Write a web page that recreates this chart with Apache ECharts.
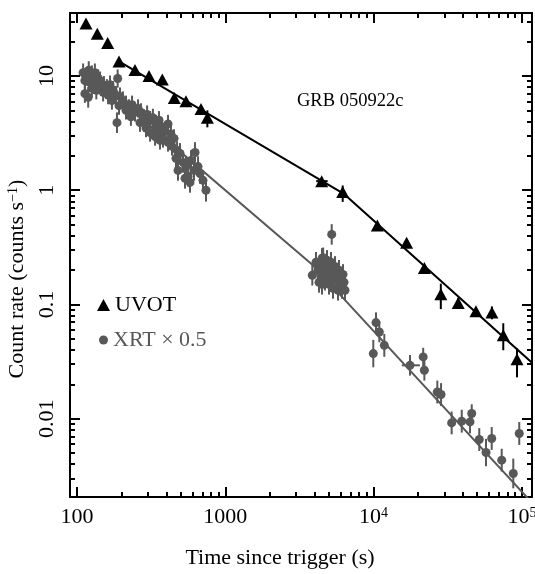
<!DOCTYPE html>
<html>
<head>
<meta charset="utf-8">
<title>GRB 050922c</title>
<script src="https://cdn.jsdelivr.net/npm/echarts@6.0.0/dist/echarts.min.js"></script>
<style>
  html, body { margin: 0; padding: 0; background: #fff; }
  #chart { width: 535px; height: 574px; }
</style>
</head>
<body>
<div id="chart"></div>
<script>
var FONT = '"Liberation Serif", "Times New Roman", serif';
var GREY = '#585858';

// ticks
var xMajor = [100, 1000, 10000, 100000];
var xMajorLabels = ['100', '1000', '10{sup|4}', '10{sup|5}'];
var xMinor = [200, 300, 400, 500, 600, 700, 800, 900,
  2000, 3000, 4000, 5000, 6000, 7000, 8000, 9000,
  20000, 30000, 40000, 50000, 60000, 70000, 80000, 90000];
var yMajor = [0.01, 0.1, 1, 10];
var yMajorLabels = ['0.01', '0.1', '1', '10'];
var yMinor = [0.003, 0.004, 0.005, 0.006, 0.007, 0.008, 0.009,
  0.02, 0.03, 0.04, 0.05, 0.06, 0.07, 0.08, 0.09,
  0.2, 0.3, 0.4, 0.5, 0.6, 0.7, 0.8, 0.9,
  2, 3, 4, 5, 6, 7, 8, 9, 20, 30];

// UVOT
var uvotT = [115, 137, 161, 192, 246, 306, 376, 453, 543, 686, 757,
  4467, 6190, 10600, 16700, 22000, 28400, 37200, 49000, 62800, 74900, 92700];
var uvotRate = [28.8, 23.4, 19.4, 13.4, 11.3, 10.0, 9.3, 6.4, 6.02, 5.13, 4.31,
  1.20, 0.962, 0.492, 0.347, 0.208, 0.1226, 0.1028, 0.0871, 0.0848, 0.0537, 0.0331];
var uvotLo = [null, null, null, null, null, null, null, null, null, null, 3.55,
  null, 0.79, null, null, null, 0.091, 0.092, null, 0.074, 0.0397, 0.023];
var uvotHi = [null, null, null, null, null, null, null, null, null, null, 5.0,
  null, 1.10, null, null, null, 0.152, 0.114, null, 0.096, 0.0684, 0.0413];
var uvotXbarT = [4467];
var uvotXbarRate = [1.20];
var uvotXbarLo = [4100];
var uvotXbarHi = [4900];
var uvotFitT = [192, 6266, 122500];
var uvotFitRate = [13.4, 0.934, 0.0293];

// XRT (x 0.5)
var xrtT = [
  110, 113, 113, 115, 119, 120, 122, 126, 126, 130, 132, 135, 139, 143,
  150, 152, 159, 162, 167, 172, 175, 183, 186, 188, 192, 195, 204, 214,
  214, 224, 231, 235, 246, 258, 266, 270, 283, 292, 297, 311, 311, 325,
  336, 341, 352, 357, 363, 374, 380, 392, 411, 411, 430, 437, 451, 465,
  473, 480, 495, 519, 535, 543, 561, 578, 587, 615, 625, 655, 675, 707, 741,
  3861, 4089, 4218, 4284, 4351, 4419, 4487, 4487, 4558, 4570, 4629, 4702,
  4775, 4850, 4926, 5003, 5082, 5161, 5218, 5242, 5324, 5408, 5492, 5578,
  5666, 5754, 5845, 5936, 6029, 6124, 6220, 6317, 6416,
  9954, 10380, 10930, 11810, 17600, 21600, 22000, 26900, 28500, 33600,
  39300, 44700, 45900, 51600, 57300, 62600, 73100, 87500, 96000];
var xrtRate = [
  10.7, 9.1, 7.0, 9.9, 6.5, 11.2, 8.8, 10.3, 7.8, 8.4, 10.7, 7.5, 9.5, 9.1,
  7.2, 8.3, 7.8, 6.8, 8.4, 6.1, 7.5, 6.8, 3.9, 9.5, 5.5, 6.6, 6.1, 5.6,
  5.0, 5.2, 4.4, 5.6, 4.8, 5.2, 3.9, 4.8, 4.25, 3.5, 4.6, 4.1, 3.2, 4.3,
  2.95, 3.8, 3.2, 4.1, 2.73, 3.6, 2.84, 3.3, 3.8, 2.62, 3.1, 2.42, 2.84, 1.90,
  2.23, 1.49, 2.10, 1.75, 1.27, 1.61, 1.32, 1.17, 1.82, 1.49, 2.14, 1.61, 1.40, 1.22, 1.0,
  0.18, 0.234, 0.199, 0.156, 0.215, 0.176, 0.253, 0.150, 0.191, 0.256, 0.224, 0.163,
  0.207, 0.243, 0.183, 0.150, 0.199, 0.234, 0.41, 0.169, 0.138, 0.191, 0.215, 0.163,
  0.176, 0.133, 0.199, 0.150, 0.169, 0.138, 0.183, 0.156, 0.133,
  0.0371, 0.0693, 0.0573, 0.0438, 0.0293, 0.0347, 0.0265, 0.0171, 0.01625, 0.00917,
  0.0095, 0.00936, 0.0111, 0.00656, 0.00505, 0.0067, 0.00433, 0.00331, 0.00741];
// half-length of the error bar in dex
var xrtErr = [
  0.08, 0.08, 0.08, 0.08, 0.09, 0.08, 0.08, 0.08, 0.08, 0.08, 0.08, 0.08, 0.08, 0.08,
  0.08, 0.08, 0.08, 0.08, 0.08, 0.08, 0.08, 0.08, 0.09, 0.08, 0.08, 0.08, 0.08, 0.08,
  0.08, 0.08, 0.08, 0.08, 0.08, 0.08, 0.08, 0.08, 0.08, 0.08, 0.08, 0.08, 0.08, 0.08,
  0.08, 0.08, 0.08, 0.08, 0.08, 0.08, 0.08, 0.08, 0.08, 0.08, 0.08, 0.08, 0.08, 0.09,
  0.08, 0.09, 0.09, 0.09, 0.09, 0.09, 0.09, 0.09, 0.09, 0.09, 0.09, 0.09, 0.09, 0.09, 0.1,
  0.09, 0.09, 0.09, 0.09, 0.09, 0.09, 0.09, 0.09, 0.09, 0.09, 0.09, 0.09,
  0.09, 0.09, 0.09, 0.09, 0.09, 0.09, 0.09, 0.09, 0.09, 0.09, 0.09, 0.09,
  0.09, 0.09, 0.09, 0.09, 0.09, 0.09, 0.09, 0.09, 0.09,
  0.12, 0.09, 0.09, 0.1, 0.09, 0.08, 0.09, 0.1, 0.1, 0.1,
  0.1, 0.1, 0.08, 0.1, 0.12, 0.1, 0.1, 0.13, 0.1];
var xrtXbarT = [17600, 26900];
var xrtXbarRate = [0.0293, 0.0171];
var xrtXbarLo = [15500, 25100];
var xrtXbarHi = [20500, 29500];
var xrtFitT = [110, 3902, 122500];
var xrtFitRate = [11.6, 0.22, 0.00172];

// [t, rate, lo, hi, tlo, thi]
var uvotBars = uvotT.map(function (t, i) {
  return [t, uvotRate[i], uvotLo[i], uvotHi[i], null, null];
}).concat(uvotXbarT.map(function (t, i) {
  return [t, uvotXbarRate[i], null, null, uvotXbarLo[i], uvotXbarHi[i]];
}));
var xrtBars = xrtT.map(function (t, i) {
  var f = Math.pow(10, xrtErr[i]);
  return [t, xrtRate[i], xrtRate[i] / f, xrtRate[i] * f, null, null];
}).concat(xrtXbarT.map(function (t, i) {
  return [t, xrtXbarRate[i], null, null, xrtXbarLo[i], xrtXbarHi[i]];
}));

function pairs(xs, ys) {
  return xs.map(function (x, i) { return [x, ys[i]]; });
}

function barRenderer(color) {
  return function (params, api) {
    var t = api.value(0), r = api.value(1);
    var lo = api.value(2), hi = api.value(3), tlo = api.value(4), thi = api.value(5);
    var style = { stroke: color, lineWidth: 2 };
    var kids = [];
    if (isFinite(lo) && isFinite(hi) && lo > 0) {
      var a = api.coord([t, lo]), b = api.coord([t, hi]);
      kids.push({ type: 'line', shape: { x1: a[0], y1: a[1], x2: b[0], y2: b[1] }, style: style });
    }
    if (isFinite(tlo) && isFinite(thi) && tlo > 0) {
      var c = api.coord([tlo, r]), d = api.coord([thi, r]);
      kids.push({ type: 'line', shape: { x1: c[0], y1: c[1], x2: d[0], y2: d[1] }, style: style });
    }
    return { type: 'group', children: kids };
  };
}

function labelFor(list, labels) {
  return function (v) {
    for (var i = 0; i < list.length; i++) {
      if (Math.abs(Math.log10(v) - Math.log10(list[i])) < 1e-6) return labels[i];
    }
    return '';
  };
}

var X_MIN = 89.7, X_MAX = 117000;
var Y_MIN = 0.00206, Y_MAX = 35.6;
var supStyle = { fontFamily: FONT, fontSize: 14, color: '#000', verticalAlign: 'top' };

function xAxisDef(grid, pos, ticks, len, main) {
  return {
    type: 'log', gridIndex: grid, position: pos, min: X_MIN, max: X_MAX,
    axisLine: { show: main, lineStyle: { color: '#000', width: 2 } },
    axisTick: { show: true, inside: true, length: len, customValues: ticks,
      lineStyle: { color: '#000', width: 2 } },
    axisLabel: { show: false },
    splitLine: { show: false }
  };
}
function yAxisDef(grid, pos, ticks, len, main) {
  return {
    type: 'log', gridIndex: grid, position: pos, min: Y_MIN, max: Y_MAX,
    axisLine: { show: main, lineStyle: { color: '#000', width: 2 } },
    axisTick: { show: true, inside: true, length: len, customValues: ticks,
      lineStyle: { color: '#000', width: 2 } },
    axisLabel: { show: false },
    splitLine: { show: false }
  };
}

var xBottom = xAxisDef(0, 'bottom', xMajor, 10, true);
xBottom.axisLabel = {
  show: true, customValues: xMajor, margin: 9,
  formatter: labelFor(xMajor, xMajorLabels),
  fontFamily: FONT, fontSize: 22, color: '#000',
  rich: { sup: supStyle }
};
xBottom.name = 'Time since trigger (s)';
xBottom.nameLocation = 'middle';
xBottom.nameGap = 50;
xBottom.nameTextStyle = { fontFamily: FONT, fontSize: 22, color: '#000', padding: [0, 42, 0, 0] };

var yLeft = yAxisDef(0, 'left', yMajor, 10, true);
yLeft.axisLabel = {
  show: true, customValues: yMajor, margin: 12, rotate: 90,
  formatter: labelFor(yMajor, yMajorLabels),
  fontFamily: FONT, fontSize: 22, color: '#000'
};
yLeft.name = 'Count rate (counts s{sup|\u22121})';
yLeft.nameLocation = 'middle';
yLeft.nameGap = 33;
yLeft.nameTextStyle = { fontFamily: FONT, fontSize: 22, color: '#000', padding: [0, 48, 0, 0],
  rich: { sup: supStyle } };

var gridRect = { left: 70, top: 13, width: 462, height: 484, outerBoundsMode: 'none', containLabel: false };

var option = {
  animation: false,
  backgroundColor: '#fff',
  grid: [gridRect, gridRect],
  title: {
    text: 'GRB 050922c', left: 292, top: 87,
    textStyle: { fontFamily: FONT, fontSize: 18.5, fontWeight: 'normal', color: '#000' }
  },
  legend: [{
    data: [{ name: 'UVOT', icon: 'triangle' }],
    left: 92, top: 289, itemWidth: 13, itemHeight: 12, selectedMode: false,
    textStyle: { fontFamily: FONT, fontSize: 22, color: '#000' }
  }, {
    data: [{ name: 'XRT \u00d7 0.5', icon: 'circle' }],
    left: 94, top: 324, itemWidth: 9, itemHeight: 9, selectedMode: false,
    textStyle: { fontFamily: FONT, fontSize: 22, color: GREY }
  }],
  xAxis: [
    xBottom,
    xAxisDef(0, 'top', xMajor, 10, true),
    xAxisDef(1, 'bottom', xMinor, 5, false),
    xAxisDef(1, 'top', xMinor, 5, false)
  ],
  yAxis: [
    yLeft,
    yAxisDef(0, 'right', yMajor, 10, true),
    yAxisDef(1, 'left', yMinor, 5, false),
    yAxisDef(1, 'right', yMinor, 5, false)
  ],
  series: [{
    name: 'XRT fit', type: 'line', xAxisIndex: 0, yAxisIndex: 0,
    data: pairs(xrtFitT, xrtFitRate), symbol: 'none', clip: true, z: 1,
    lineStyle: { color: GREY, width: 2 }
  }, {
    name: 'UVOT fit', type: 'line', xAxisIndex: 0, yAxisIndex: 0,
    data: pairs(uvotFitT, uvotFitRate), symbol: 'none', clip: true, z: 1,
    lineStyle: { color: '#000', width: 2 }
  }, {
    name: 'XRT bars', type: 'custom', xAxisIndex: 0, yAxisIndex: 0,
    data: xrtBars, encode: { x: 0, y: 1 }, renderItem: barRenderer(GREY), z: 2
  }, {
    name: 'XRT \u00d7 0.5', type: 'scatter', xAxisIndex: 0, yAxisIndex: 0,
    data: pairs(xrtT, xrtRate), symbol: 'circle', symbolSize: 9, z: 3,
    itemStyle: { color: GREY, opacity: 1 }
  }, {
    name: 'UVOT bars', type: 'custom', xAxisIndex: 0, yAxisIndex: 0,
    data: uvotBars, encode: { x: 0, y: 1 }, renderItem: barRenderer('#000'), z: 4
  }, {
    name: 'UVOT', type: 'scatter', xAxisIndex: 0, yAxisIndex: 0,
    data: pairs(uvotT, uvotRate), symbol: 'triangle', symbolSize: [13, 12], z: 5,
    itemStyle: { color: '#000', opacity: 1 }
  }]
};

var chart = echarts.init(document.getElementById('chart'), null, { renderer: 'canvas' });
chart.setOption(option);
</script>
</body>
</html>
